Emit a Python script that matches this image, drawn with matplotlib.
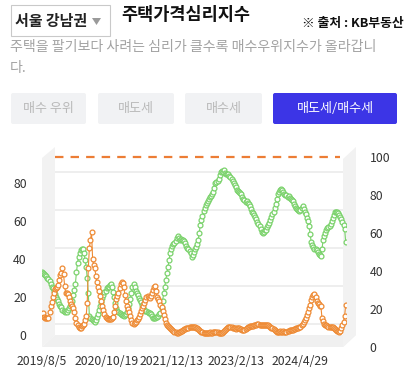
import matplotlib
matplotlib.use("Agg")
import matplotlib.pyplot as plt
import matplotlib.transforms as mtransforms
from matplotlib.patches import Rectangle, Polygon, FancyBboxPatch

plt.rcParams['font.family'] = ['Noto Sans CJK KR', 'DejaVu Sans']

# ---------------- data ----------------
tick_idx = [0, 60, 120, 180, 240]
tick_labels = ['2019/8/5', '2020/10/19', '2021/12/13', '2023/2/13', '2024/4/29']
left_ticks = [0, 20, 40, 60, 80]
right_ticks = [0, 20, 40, 60, 80, 100]
ref_level = 100

sell_side = [  # green
    33, 32.5, 32, 31.5, 31, 30, 29.5, 28.5, 27, 25.5,
    24.5, 23, 21.5, 20, 19, 18, 16.5, 15.5, 14.5, 13,
    12.5, 12, 12.5, 12, 13, 14, 15, 16.5, 18, 21,
    23.5, 27, 33, 38, 41, 43, 44.5, 45, 45, 43,
    39.5, 36, 30, 22, 10, 9, 8.5, 8, 7.5, 7,
    8, 9.5, 11, 13, 15, 17.5, 19.5, 21, 22.5, 23,
    24.5, 25, 25.5, 26.5, 27, 25, 22.5, 20, 17, 14,
    12.5, 12, 11.5, 11, 10.5, 10.5, 10, 10.5, 11, 12,
    14, 16.5, 19, 22, 25, 27, 25, 23, 22, 21,
    19.5, 18.5, 17.5, 16, 14, 13, 12.5, 12.5, 12, 11.5,
    11.5, 11, 10, 9, 8.8, 9, 9.5, 9.5, 10, 11,
    11.5, 14, 18, 22, 25.5, 29, 32.5, 36, 39.5, 43,
    45, 47, 48, 48.5, 49.5, 51, 52, 51, 50, 50.5,
    50, 50, 49.5, 48.5, 47, 46, 45, 44, 43, 41,
    42, 43.5, 45, 46.5, 48, 50, 53.5, 58, 60.5, 62.5,
    65.5, 67, 68.5, 69.5, 70.5, 71.5, 72.5, 73, 74, 75.5,
    77.5, 80, 80.5, 81, 82, 84, 86, 86.5, 86, 86.8,
    85.5, 85, 84.5, 85, 83.5, 83, 82, 81, 80, 79,
    78, 76.5, 76, 75.5, 74.5, 74, 72.5, 71.5, 71, 70,
    70.5, 69.5, 69, 68, 66.5, 65, 64, 63, 62, 61,
    59.5, 58.5, 57.5, 56, 54, 53.5, 54, 55, 55, 57,
    58, 59, 60.5, 62, 63.5, 65, 67, 69, 71.5, 74,
    75.5, 76.5, 77, 76.5, 75.5, 74, 73.5, 73.5, 72.5, 73,
    72, 71.5, 71, 70.5, 69, 68, 67, 66.5, 66, 65.5,
    66, 67, 68, 66.5, 65, 63.5, 61.5, 60, 57.5, 53,
    49, 47.5, 46.5, 45.5, 45, 44.5, 43.5, 42.5, 42, 41.5,
    45, 50, 52, 53.5, 55, 56.5, 57, 57.5, 58.5, 60,
    61.5, 63, 64.5, 65, 64.5, 64, 63, 62, 61, 59.5,
    58, 56, 49,
]

buy_side = [  # orange
    11, 11.5, 9.5, 8.8, 9, 8.8, 9, 12, 15, 17.5,
    20, 22, 24, 24.5, 25, 26.5, 29, 31.5, 32.5, 35,
    32, 26, 22, 22, 21.5, 20, 18, 16.5, 15.5, 14,
    12, 9, 6.5, 5, 4, 3.5, 3.8, 4.5, 5, 6,
    8, 10, 17, 35, 46, 50, 54, 40, 37, 35.5,
    31, 28, 25, 23, 20.5, 18, 15.5, 13, 11, 9.5,
    8.8, 8.5, 8.2, 8.2, 8.5, 9, 9.5, 12, 15.5, 19,
    20.5, 22, 24.5, 27, 28, 27.5, 25, 21, 18, 15.5,
    13.5, 12, 10, 8, 6.5, 6, 6.5, 7, 8, 8.5,
    9.5, 11, 12.5, 14, 15, 17, 18.5, 20, 20.5, 20,
    19.5, 20.5, 22, 23.5, 25, 26, 23, 20, 19, 18,
    16, 14.5, 12.5, 10.5, 8.5, 6.5, 5.5, 4.5, 4, 3.5,
    3, 2.5, 2, 1.8, 1.5, 1.2, 1.2, 1.5, 1.8, 2,
    2.2, 2.6, 3, 3.2, 3.5, 3.5, 3.5, 4, 4.2, 4.4,
    4.4, 4.2, 4, 3.8, 3.5, 3, 2.5, 2.2, 1.8, 1.5,
    1.2, 1, 1, 0.9, 1, 1.2, 1.5, 1.2, 1.2, 1.5,
    1.8, 1.5, 1.8, 1.5, 1.2, 1, 0.9, 1, 1.5, 2,
    2.6, 3, 3.5, 4, 4.4, 4.2, 4, 3.8, 3.5, 3.5,
    3.2, 3.5, 3.8, 3.5, 3.2, 3, 2.8, 2.6, 2.8, 3.2,
    3.5, 4, 4.4, 4.5, 4.6, 4.5, 4.7, 5, 5.2, 5.5,
    5.6, 5.6, 5.4, 5.3, 5.3, 5.2, 5, 5.2, 5.3, 5.3,
    5, 4.5, 4, 3.8, 3.5, 3, 2.5, 2.2, 1.8, 1.6,
    1.8, 2, 1.8, 1.8, 2, 1.8, 1.8, 1.8, 2, 2.2,
    2.4, 2.6, 2.6, 2.8, 3, 3.2, 3.5, 3.5, 3.8, 4,
    4.4, 5, 6, 7, 8, 9, 10.5, 12, 14, 16,
    18.5, 20, 21, 21.5, 20, 18, 17, 16.5, 15.5, 15,
    9, 7.5, 6, 5.3, 5, 4.6, 4.4, 4.4, 4.4, 4.4,
    4.2, 3.8, 3.2, 2.6, 2.2, 2, 1.8, 2.2, 3.5, 5,
    7, 10, 15.8,
]

# ---------------- figure ----------------
W, H = 411, 378
fig = plt.figure(figsize=(W / 100, H / 100), dpi=100)
fig.patch.set_facecolor('white')

bg = fig.add_axes([0, 0, 1, 1])
bg.set_xlim(0, W)
bg.set_ylim(H, 0)
bg.axis('off')
bg.set_zorder(0)

# header
bg.add_patch(Rectangle((11, 5), 99, 31, fill=False, edgecolor='#c9c9c9', lw=0.8))
bg.text(15, 21, '서울 강남권', fontsize=10.8, fontweight='bold', color='#222222',
        va='center', ha='left')
bg.add_patch(Polygon([(92, 18), (101, 18), (96.5, 25)], closed=True,
                     facecolor='#9a9a9a', edgecolor='none'))
bg.text(121, 15, '주택가격심리지수', fontsize=12.6, fontweight='bold', color='#111111',
        va='center', ha='left')
bg.text(404, 23, '※ 출처 : KB부동산', fontsize=9.2, fontweight='bold', color='#111111',
        va='center', ha='right')
bg.text(10, 47, '주택을 팔기보다 사려는 심리가 클수록 매수우위지수가 올라갑니',
        fontsize=10.1, color='#a3a3a3', va='center', ha='left')
bg.text(10, 68, '다.', fontsize=10.1, color='#a3a3a3', va='center', ha='left')

buttons = [('매수 우위', 11, 86, False), ('매도세', 98, 174, False),
           ('매수세', 185, 262, False), ('매도세/매수세', 273, 397, True)]
for label, x0, x1, active in buttons:
    fc = '#3c35e6' if active else '#f1f2f4'
    tc = 'white' if active else '#b9b9b9'
    bg.add_patch(FancyBboxPatch((x0, 93), x1 - x0, 31,
                                boxstyle='round,pad=0,rounding_size=2',
                                facecolor=fc, edgecolor='none'))
    bg.text((x0 + x1) / 2, 108.5, label, fontsize=9.4, color=tc,
            va='center', ha='center')

# 3D frame decorations (walls and floor)
wall_c = '#f2f2f2'
bg.add_patch(Polygon([(42, 158), (55, 147), (55, 335), (42, 347)], closed=True,
                     facecolor=wall_c, edgecolor='none'))
bg.add_patch(Polygon([(42, 347), (343, 347), (356, 335), (55, 335)], closed=True,
                     facecolor='#f0f0f0', edgecolor='none'))
bg.add_patch(Polygon([(343, 159), (356, 147), (356, 335), (343, 347)], closed=True,
                     facecolor=wall_c, edgecolor='none'))

# ---------------- chart axes ----------------
x0p, x1p, y0p, y1p = 42, 346, 147, 347
ax = fig.add_axes([x0p / W, (H - y1p) / H, (x1p - x0p) / W, (y1p - y0p) / H])
ax.set_zorder(3)
ax.patch.set_visible(False)
n = len(sell_side)
xs = list(range(n))
ax.set_xlim(0, 282.3)
ax.set_ylim(-6.32, 98.95)

ax2 = ax.twinx()
ax2.set_ylim(0, 105.26)
ax2.set_zorder(2)
ax2.patch.set_visible(False)

# back-wall gridlines (offset upward for 3D depth)
grid_tr = mtransforms.offset_copy(ax.get_yaxis_transform(), fig=fig, x=0, y=11, units='dots')
for v in left_ticks:
    ax.plot([13 / 304, 301 / 304], [v, v], transform=grid_tr, color='#ebebeb',
            lw=1.2, zorder=0, solid_capstyle='butt')

# reference dashed line
ax2.axhline(ref_level, xmin=13 / 304, xmax=298 / 304, color='#ec7d35', lw=1.6,
            ls=(0, (3.8, 3.2)), zorder=1)

green = '#7ad26b'
orange = '#ee8a33'
ax.plot(xs, sell_side, color=green, lw=0.8, marker='o', ms=3.5, mfc='white',
        mec=green, mew=0.9, zorder=3)
ax.plot(xs, buy_side, color=orange, lw=0.8, marker='o', ms=3.5, mfc='white',
        mec=orange, mew=0.9, zorder=4)

for a in (ax, ax2):
    for s in a.spines.values():
        s.set_visible(False)

ax.set_yticks(left_ticks)
ax.set_yticklabels([str(t) for t in left_ticks])
ax.tick_params(axis='y', length=0, pad=11, labelsize=8.8, labelcolor='#333333')
ax.set_xticks(tick_idx)
ax.set_xticklabels(tick_labels)
ax.tick_params(axis='x', length=0, pad=6, labelsize=8.8, labelcolor='#333333')

ax2.set_yticks(right_ticks)
ax2.set_yticklabels([str(t) for t in right_ticks])
ax2.tick_params(axis='y', length=0, pad=17, labelsize=8.8, labelcolor='#333333')

fig.savefig('out.png', dpi=100, facecolor='white')
